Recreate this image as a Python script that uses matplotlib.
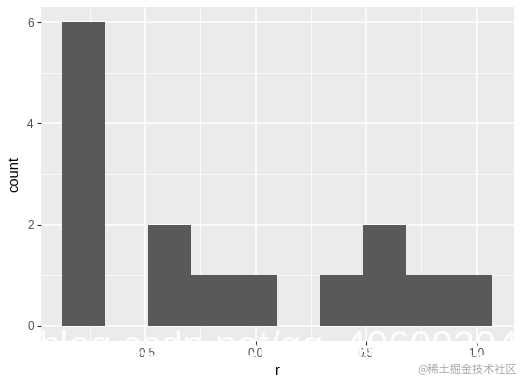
import matplotlib
matplotlib.use("Agg")
import matplotlib.pyplot as plt
from matplotlib.ticker import MultipleLocator

# histogram of r (10 bins, ggplot2 style)
BIN_EDGES = [-0.876, -0.681, -0.487, -0.292, -0.097, 0.097,
             0.292, 0.487, 0.681, 0.876, 1.070]
COUNTS = [6, 0, 2, 1, 1, 0, 1, 2, 1, 1]
X_TICKS = [-0.5, 0.0, 0.5, 1.0]
Y_TICKS = [0, 2, 4, 6]

W, H = 522, 379
plt.rcParams["font.family"] = ["Liberation Sans", "DejaVu Sans"]

fig = plt.figure(figsize=(W / 100, H / 100), dpi=100)
ax = fig.add_axes([40.5 / W, 1 - 341 / H, 473 / W, 334 / H])
ax.set_facecolor("#EBEBEB")

lefts = BIN_EDGES[:-1]
widths = [b - a for a, b in zip(BIN_EDGES[:-1], BIN_EDGES[1:])]
ax.bar(lefts, COUNTS, width=widths, align="edge", color="#595959",
       linewidth=0, zorder=3)

# ggplot default expansion: 5% each side
span = BIN_EDGES[-1] - BIN_EDGES[0]
ax.set_xlim(BIN_EDGES[0] - 0.05 * span, BIN_EDGES[-1] + 0.05 * span)
ax.set_ylim(-0.05 * max(COUNTS), max(COUNTS) * 1.05)

ax.set_xticks(X_TICKS)
ax.set_xticklabels([f"{v:.1f}" for v in X_TICKS])
ax.set_yticks(Y_TICKS)
ax.xaxis.set_minor_locator(MultipleLocator(0.25))
ax.yaxis.set_minor_locator(MultipleLocator(1))
ax.grid(which="major", color="white", linewidth=1.1, zorder=1)
ax.grid(which="minor", color="white", linewidth=0.55, zorder=1)
ax.set_axisbelow(True)
ax.tick_params(which="major", length=3, width=0.8, color="#333333",
               labelcolor="#4D4D4D", labelsize=8.4, pad=2)
ax.tick_params(which="minor", length=0)
for s in ax.spines.values():
    s.set_visible(False)

ax.set_xlabel("r", fontsize=10.5, labelpad=3)
ax.set_ylabel("count", fontsize=10.5, labelpad=4)

# watermarks (the white one sits over the bottom of the panel, as in the source)
fig.text(38 / W, 1 - 357.5 / H, "blog.csdn.net/qq_40600294", color="white",
         alpha=0.92, fontsize=28, va="baseline", ha="left")
fig.text(517 / W, 1 - 369 / H, "@稀土掘金技术社区", color="#A8A8A8",
         fontsize=8, va="center", ha="right",
         family=["Noto Sans CJK SC", "DejaVu Sans"])

fig.savefig("out.png", dpi=100)
